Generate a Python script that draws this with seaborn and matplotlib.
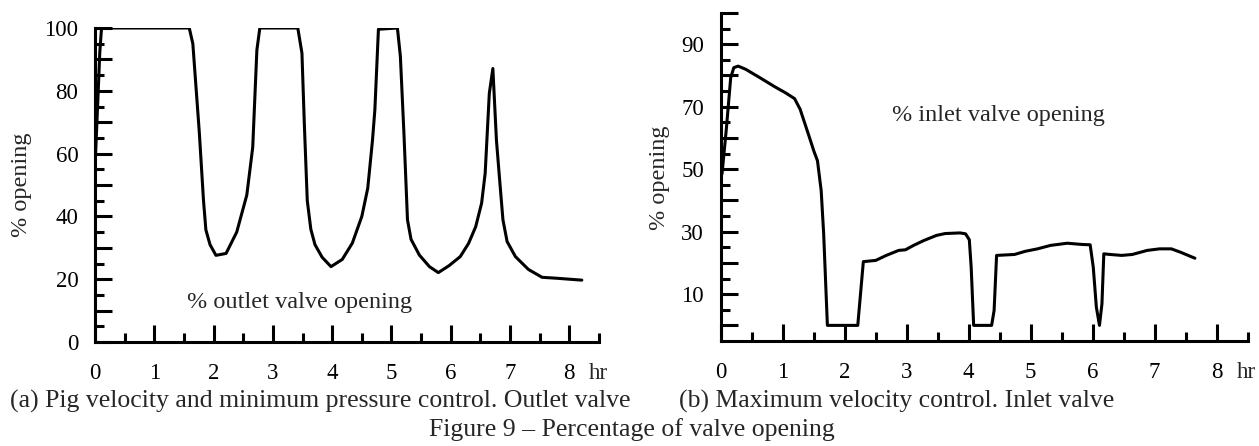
import numpy as np
import matplotlib
matplotlib.use("Agg")
import matplotlib.pyplot as plt
import pandas as pd
import seaborn as sns

# ---------------------------------------------------------------------------
# data
# ---------------------------------------------------------------------------

# (a) outlet valve opening, % vs hr
t_out = [0.01, 0.05, 0.08, 0.11, 1.59, 1.65, 1.76, 1.83, 1.87, 1.94,
         2.04, 2.21, 2.39, 2.56, 2.66, 2.73, 2.78, 3.42, 3.49, 3.53,
         3.58, 3.64, 3.71, 3.83, 3.98, 4.17, 4.34, 4.50, 4.60, 4.68,
         4.72, 4.78, 5.10, 5.15, 5.21, 5.27, 5.33, 5.47, 5.64, 5.79,
         5.97, 6.16, 6.30, 6.42, 6.52, 6.58, 6.65, 6.71, 6.77, 6.82,
         6.88, 6.95, 7.09, 7.31, 7.54, 7.79, 8.21]
y_out = [60, 78, 92, 100, 100, 95, 66.5, 45, 35.7, 31,
         27.6, 28.2, 35, 46.8, 62, 93, 100, 100, 92, 69.6,
         45, 35.9, 31, 27, 24, 26.3, 31.5, 40, 49, 64.3,
         74, 99.6, 100, 91, 66.5, 38.9, 32.7, 27.7, 24, 22.1,
         24.3, 27.2, 31.4, 36.7, 44.2, 53.7, 79.2, 87.1, 64.3, 52.6,
         38.9, 32, 27.2, 23.1, 20.6, 20.3, 19.7]

# (b) inlet valve opening, % vs hr
t_in = [0.02, 0.09, 0.16, 0.21, 0.28, 0.40, 0.63, 0.87, 1.04, 1.19,
        1.28, 1.35, 1.43, 1.50, 1.56, 1.62, 1.66, 1.72, 2.21, 2.30,
        2.50, 2.67, 2.87, 2.98, 3.11, 3.28, 3.48, 3.62, 3.86, 3.95,
        4.01, 4.04, 4.08, 4.37, 4.41, 4.45, 4.74, 4.91, 5.11, 5.32,
        5.59, 5.83, 5.96, 6.01, 6.06, 6.11, 6.15, 6.18, 6.28, 6.47,
        6.64, 6.88, 7.08, 7.27, 7.42, 7.65]
y_in = [48.5, 63, 79.3, 82.5, 83, 82, 79.3, 76.4, 74.5, 72.6,
        69.2, 65, 60.2, 55.9, 52.7, 43.1, 29.3, 0, 0, 20.4,
        20.8, 22.4, 24, 24.2, 25.6, 27.2, 28.8, 29.4, 29.6, 29.3,
        27.4, 18.6, 0, 0, 4.8, 22.4, 22.7, 23.7, 24.5, 25.6,
        26.3, 25.9, 25.8, 18.6, 5.8, 0, 6.9, 22.9, 22.7, 22.4,
        22.7, 24, 24.5, 24.5, 23.4, 21.5]

hours = list(range(0, 9))
left_ylabels = [0, 20, 40, 60, 80, 100]
right_ylabels = [10, 30, 50, 70, 90]

df_out = pd.DataFrame({"hr": t_out, "opening": y_out})
df_in = pd.DataFrame({"hr": t_in, "opening": y_in})

# ---------------------------------------------------------------------------
sns.set_style("ticks")
plt.rcParams['font.family'] = ['Liberation Serif', 'DejaVu Serif']
FS = 16.5      # tick labels
FS_IN = 17.5   # texts inside / axis titles
FS_CAP = 18.5  # captions under the plots
LW = 2.2

fig = plt.figure(figsize=(12.59, 4.46), dpi=100)
ax1 = fig.add_axes([0.07546, 0.23318, 0.40032, 0.70404])
ax2 = fig.add_axes([0.57251, 0.23543, 0.41843, 0.73543])


def style_axis(ax, ylo, labelled):
    ax.set_xlim(0, 8.5)
    ax.set_ylim(ylo, 100)
    sns.despine(ax=ax)
    for s in ["left", "bottom"]:
        ax.spines[s].set_linewidth(LW)
        ax.spines[s].set_color("black")
    ax.set_xticks(hours)
    ax.set_xticklabels([str(h) for h in hours])
    ax.set_xticks(np.arange(0.5, 8.6, 1.0), minor=True)
    ticks = list(range(0, 101, 10))
    ax.set_yticks(ticks)
    ax.set_yticklabels([str(v) if v in labelled else "" for v in ticks])
    ax.set_yticks(np.arange(5, 100, 10), minor=True)
    ax.tick_params(which="major", direction="in", length=12, width=LW,
                   color="black", labelsize=FS, labelcolor="black")
    ax.tick_params(axis="x", which="major", pad=15)
    ax.tick_params(axis="y", which="major", pad=12)
    ax.tick_params(which="minor", direction="in", length=6.5, width=LW,
                   color="black")
    ax.set_xlabel("")
    ax.set_ylabel("")
    ax.annotate("hr", xy=(8.32, 0), xycoords=("data", "axes fraction"),
                xytext=(0, -15), textcoords="offset points",
                ha="left", va="top", fontsize=FS)


# (a) outlet valve
sns.lineplot(data=df_out, x="hr", y="opening", ax=ax1, color="black",
             linewidth=LW, estimator=None, sort=False)
style_axis(ax1, 0, left_ylabels)
ax1.text(1.55, 12.7, "% outlet valve opening", fontsize=FS_IN, va="center")

# (b) inlet valve
sns.lineplot(data=df_in, x="hr", y="opening", ax=ax2, color="black",
             linewidth=LW, estimator=None, sort=False)
style_axis(ax2, -5, right_ylabels)
ax2.text(2.76, 67.1, "% inlet valve opening", fontsize=FS_IN, va="center")

# y labels
fig.text(22 / 1259, 1 - 185 / 446, "% opening", rotation=90,
         ha="center", va="center", fontsize=FS_IN)
fig.text(660 / 1259, 1 - 178 / 446, "% opening", rotation=90,
         ha="center", va="center", fontsize=FS_IN)

# captions
fig.text(320 / 1259, 1 - 401 / 446,
         "(a) Pig velocity and minimum pressure control. Outlet valve",
         ha="center", va="center", fontsize=FS_CAP)
fig.text(897 / 1259, 1 - 401 / 446,
         "(b) Maximum velocity control. Inlet valve",
         ha="center", va="center", fontsize=FS_CAP)
fig.text(632 / 1259, 1 - 430 / 446,
         "Figure 9 \u2013 Percentage of valve opening",
         ha="center", va="center", fontsize=FS_CAP)

fig.savefig("out.png", dpi=100)
